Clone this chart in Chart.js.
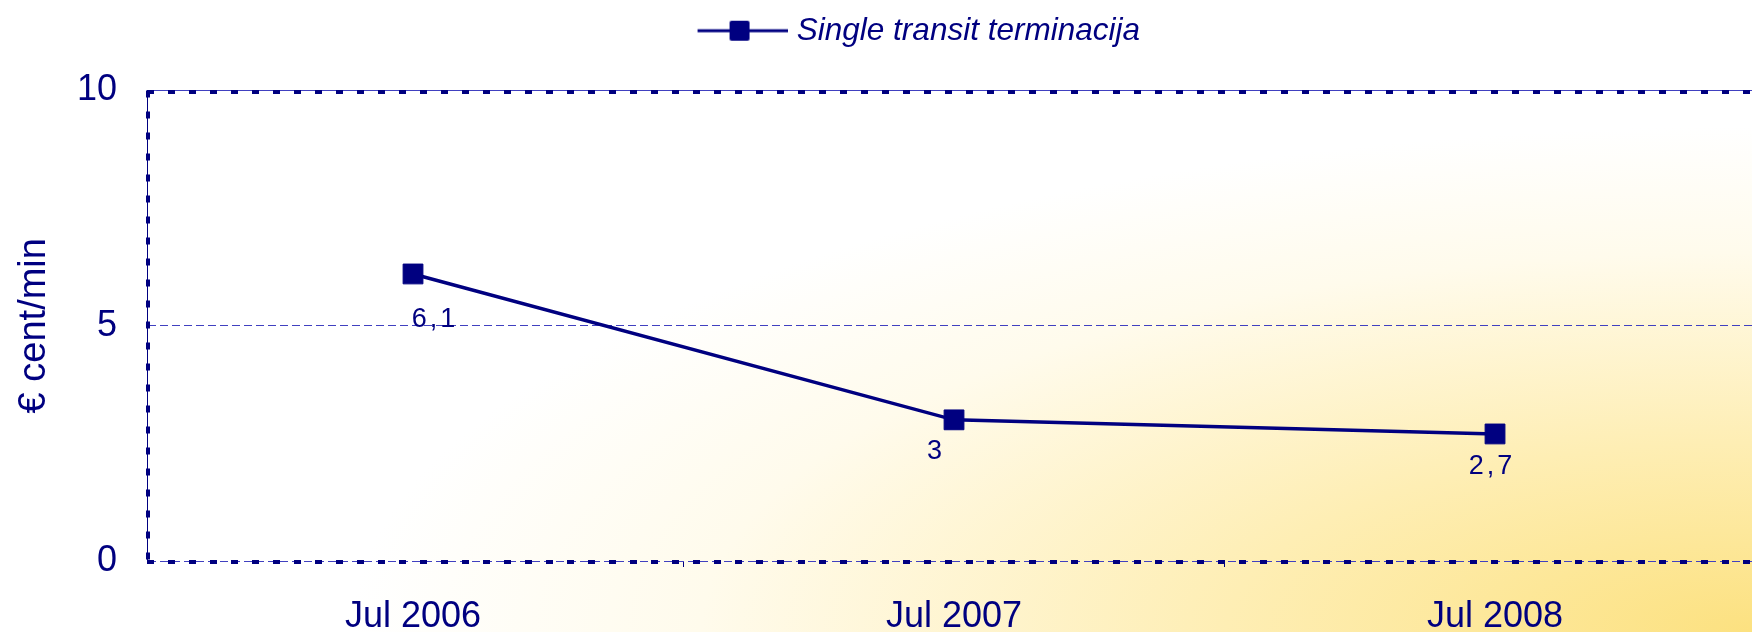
<!DOCTYPE html>
<html>
<head>
<meta charset="utf-8">
<script src="https://cdn.jsdelivr.net/npm/chart.js@4.4.1/dist/chart.umd.min.js"></script>
<style>
    html, body { margin: 0; padding: 0; overflow: hidden; background: #fff; }
    #chart { display: block; }
</style>
</head>
<body>
<canvas id="chart" width="1752" height="632"></canvas>
<script>
// chart data
const categories = ['Jul 2006', 'Jul 2007', 'Jul 2008'];
const transitValues = [6.1, 3.0, 2.7];
const seriesName = 'Single transit terminacija';
const yTicks = [0, 5, 10];
const yTitle = '€ cent/min';

const navy = '#000080';
const family = "'Liberation Sans', Arial, sans-serif";

// category centres at whole numbers, small tick marks half way between them
const xTickValues = categories.flatMap((c, i) => (i < categories.length - 1 ? [i, i + 0.5] : [i]));

// legend symbol: line with a square marker in the middle
const legendSymbol = (() => {
    const c = document.createElement('canvas');
    c.width = 182;
    c.height = 24;
    const g = c.getContext('2d');
    g.strokeStyle = navy;
    g.lineWidth = 3;
    g.beginPath();
    g.moveTo(92, 12);
    g.lineTo(182, 12);
    g.stroke();
    g.fillStyle = navy;
    g.beginPath();
    if (g.roundRect) g.roundRect(124, 2, 20, 20, 2); else g.rect(124, 2, 20, 20);
    g.fill();
    return c;
})();

// yellow glow from the bottom right corner
const backgroundPlugin = {
    id: 'cornerGlow',
    beforeDraw: (chart) => {
        const { ctx, width, height } = chart;
        ctx.save();
        ctx.translate(width, height);
        ctx.scale(width, height);
        const grad = ctx.createRadialGradient(0, 0, 0, 0, 0, 1);
        grad.addColorStop(0, 'rgb(252, 225, 128)');
        grad.addColorStop(0.3, 'rgb(254, 238, 180)');
        grad.addColorStop(0.6, 'rgb(255, 251, 236)');
        grad.addColorStop(0.8, '#ffffff');
        grad.addColorStop(1, '#ffffff');
        ctx.fillStyle = grad;
        ctx.fillRect(-1.2, -1.2, 2.4, 2.4);
        ctx.restore();
    }
};

// thick square dots along the plot frame
const framePlugin = {
    id: 'dottedFrame',
    beforeDatasetsDraw: (chart) => {
        const { ctx, chartArea: { left, top, right, bottom } } = chart;
        ctx.save();
        ctx.strokeStyle = navy;
        ctx.lineWidth = 4;
        ctx.setLineDash([7, 14]);
        ctx.beginPath();
        ctx.moveTo(left, top + 1.5);
        ctx.lineTo(right, top + 1.5);
        ctx.moveTo(left + 1, top);
        ctx.lineTo(left + 1, bottom);
        ctx.moveTo(left, bottom + 1);
        ctx.lineTo(right, bottom + 1);
        ctx.stroke();
        ctx.restore();
    }
};

// value labels under the markers
const valueLabelPlugin = {
    id: 'valueLabels',
    afterDatasetsDraw: (chart, args, opts) => {
        const { ctx } = chart;
        const meta = chart.getDatasetMeta(0);
        ctx.save();
        ctx.fillStyle = navy;
        ctx.font = `27px ${family}`;
        if ('letterSpacing' in ctx) ctx.letterSpacing = '3px';
        ctx.textAlign = 'center';
        ctx.textBaseline = 'middle';
        meta.data.forEach((pt, i) => {
            const off = opts.offsets[i] || { dx: 0, dy: 34 };
            ctx.fillText(String(transitValues[i]).replace('.', ','), pt.x + off.dx, pt.y + off.dy);
        });
        ctx.restore();
    }
};

new Chart(document.getElementById('chart'), {
    type: 'line',
    data: {
        datasets: [{
            label: seriesName,
            data: transitValues.map((v, i) => ({ x: i, y: v })),
            borderColor: navy,
            borderWidth: 3.5,
            tension: 0,
            fill: false,
            pointStyle: 'rect',
            pointRadius: 14,
            pointHoverRadius: 14,
            pointBackgroundColor: navy,
            pointBorderColor: navy,
            pointBorderWidth: 1
        }]
    },
    options: {
        responsive: false,
        animation: false,
        layout: { padding: 0, autoPadding: false },
        plugins: {
            legend: {
                position: 'top',
                labels: {
                    usePointStyle: true,
                    pointStyleWidth: 169,
                    padding: 15,
                    color: navy,
                    font: { size: 31.5, style: 'italic', family },
                    generateLabels: (chart) => chart.data.datasets.map((ds, i) => ({
                        text: ds.label,
                        fillStyle: navy,
                        strokeStyle: navy,
                        lineWidth: 0,
                        pointStyle: legendSymbol,
                        fontColor: navy,
                        hidden: false,
                        datasetIndex: i
                    }))
                }
            },
            // empty spacer between legend and plot
            title: { display: true, text: '', weight: 500, padding: 0, font: { size: 28.3 } },
            tooltip: { enabled: false },
            valueLabels: {
                offsets: [{ dx: 22, dy: 46 }, { dx: -18, dy: 32 }, { dx: -3, dy: 33 }]
            }
        },
        scales: {
            x: {
                type: 'linear',
                // the plot runs a little past the right edge of the picture
                min: -0.4917,
                max: 2.475,
                afterBuildTicks: (scale) => { scale.ticks = xTickValues.map(v => ({ value: v })); },
                afterFit: (scale) => { scale.height = 71; },
                grid: {
                    drawOnChartArea: false,
                    drawTicks: true,
                    tickLength: 6,
                    lineWidth: 1,
                    tickColor: (ctx) => (ctx.tick && Number.isInteger(ctx.tick.value)) ? 'rgba(0,0,0,0)' : navy
                },
                border: { display: false },
                ticks: {
                    color: navy,
                    font: { size: 36, family },
                    padding: 28,
                    maxRotation: 0,
                    autoSkip: false,
                    callback: (v) => (Number.isInteger(v) ? categories[v] : '')
                }
            },
            y: {
                min: 0,
                max: 10,
                afterBuildTicks: (scale) => { scale.ticks = yTicks.map(v => ({ value: v })); },
                afterFit: (scale) => { scale.width = 147; },
                grid: { color: '#4040c0', lineWidth: 1, drawTicks: false },
                border: {
                    display: true,
                    color: navy,
                    width: 1,
                    dash: (ctx) => (ctx.tick && ctx.tick.value === 10) ? [] : [8, 4]
                },
                ticks: { color: navy, font: { size: 36, family }, padding: 30 },
                title: {
                    display: true,
                    text: yTitle,
                    color: navy,
                    font: { size: 38, family },
                    padding: { top: 12, bottom: 10 }
                }
            }
        }
    },
    plugins: [backgroundPlugin, framePlugin, valueLabelPlugin]
});
</script>
</body>
</html>
